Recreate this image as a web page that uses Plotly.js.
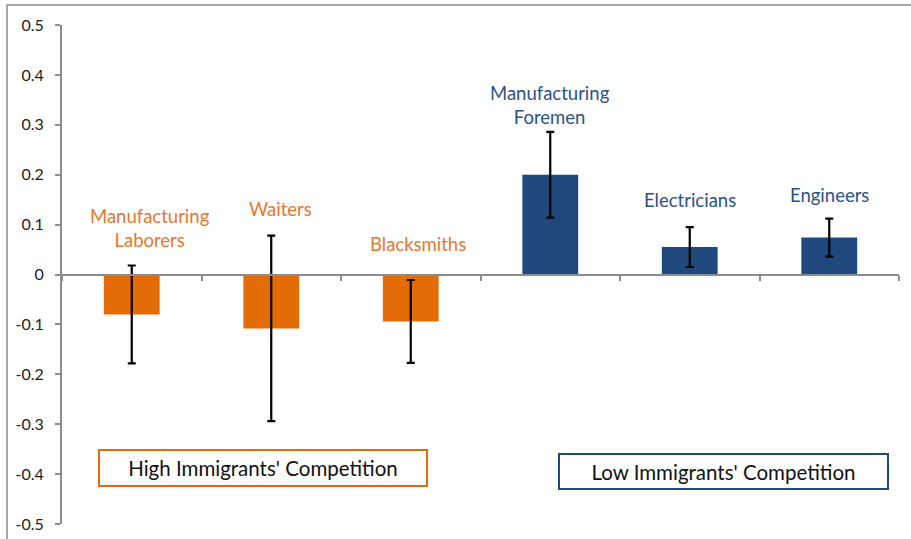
<!DOCTYPE html>
<html>
<head>
<meta charset="utf-8">
<script src="https://cdn.plot.ly/plotly-3.0.1.min.js"></script>
<style>html,body{margin:0;padding:0;background:#fff;}#chart{width:911px;height:539px;}</style>
</head>
<body>
<div id="chart"></div>
<script>
// ---- data ----
const highCategories = ["Manufacturing Laborers", "Waiters", "Blacksmiths"];
const lowCategories = ["Manufacturing Foremen", "Electricians", "Engineers"];
const highValues = [-0.080, -0.108, -0.094];
const highErrors = [0.098, 0.186, 0.083];
const lowValues = [0.200, 0.055, 0.074];
const lowErrors = [0.086, 0.040, 0.038];
const groupLabels = ["High Immigrants' Competition", "Low Immigrants' Competition"];
const yTickValues = [0.5, 0.4, 0.3, 0.2, 0.1, 0, -0.1, -0.2, -0.3, -0.4, -0.5];
const yTickLabels = ["0.5", "0.4", "0.3", "0.2", "0.1", "0", "-0.1", "-0.2", "-0.3", "-0.4", "-0.5"];

const ORANGE = "#E36C09";
const ORANGE_TEXT = "#E8762D";
const BLUE = "#1F497D";
const BLUE_TEXT = "#2A5288";
const FONT = "Lato, 'Open Sans', sans-serif";
const allCats = highCategories.concat(lowCategories);

const errStyle = {type: "data", visible: true, color: "#000", thickness: 2.2, width: 4};

const traces = [
  {type: "bar", x: highCategories, y: highValues, marker: {color: ORANGE},
   error_y: Object.assign({array: highErrors}, errStyle), width: 0.4, hoverinfo: "x+y"},
  {type: "bar", x: lowCategories, y: lowValues, marker: {color: BLUE},
   error_y: Object.assign({array: lowErrors}, errStyle), width: 0.4, hoverinfo: "x+y"}
];

function label(cat, y, text, color, xshift) {
  return {x: cat, y: y, xref: "x", yref: "y", text: text, showarrow: false,
          xanchor: "center", yanchor: "middle",
          xshift: xshift || 0, font: {family: FONT, size: 18.5, color: color}, align: "center"};
}

const annotations = [
  label(highCategories[0], 0.093, "Manufacturing<br>Laborers", ORANGE_TEXT, 18),
  label(highCategories[1], 0.131, "Waiters", ORANGE_TEXT, 9),
  label(highCategories[2], 0.062, "Blacksmiths", ORANGE_TEXT, 7),
  label(lowCategories[0], 0.34, "Manufacturing<br>Foremen", BLUE_TEXT, 0),
  label(lowCategories[1], 0.150, "Electricians", BLUE_TEXT, 0),
  label(lowCategories[2], 0.160, "Engineers", BLUE_TEXT, 0),
  {xref: "paper", yref: "paper", x: 0.2407, y: 0.112, xanchor: "center", yanchor: "middle",
   text: groupLabels[0], showarrow: false,
   width: 326, height: 34, bordercolor: ORANGE, borderwidth: 2, borderpad: 0, bgcolor: "#fff",
   font: {family: FONT, size: 20.5, color: "#111"}},
  {xref: "paper", yref: "paper", x: 0.790, y: 0.106, xanchor: "center", yanchor: "middle",
   text: groupLabels[1], showarrow: false,
   width: 327, height: 33, bordercolor: BLUE, borderwidth: 2, borderpad: 0, bgcolor: "#fff",
   font: {family: FONT, size: 20.5, color: "#111"}}
];

const layout = {
  width: 911, height: 539,
  margin: {l: 62, r: 12, t: 25, b: 15, pad: 0},
  paper_bgcolor: "#fff", plot_bgcolor: "#fff",
  showlegend: false,
  barmode: "overlay",
  font: {family: FONT, size: 15, color: "#222"},
  xaxis: {type: "category", categoryorder: "array", categoryarray: allCats,
          range: [-0.5, 5.5], anchor: "free", position: 0.5,
          showticklabels: false, showgrid: false, zeroline: false,
          showline: true, linecolor: "#8c8c8c", linewidth: 2.5,
          ticks: "outside", tickson: "boundaries", ticklen: 5, tickwidth: 2, tickcolor: "#8c8c8c"},
  yaxis: {range: [-0.5, 0.5], tickvals: yTickValues, ticktext: yTickLabels,
          showgrid: false, zeroline: false, showline: true, linecolor: "#8c8c8c", linewidth: 2,
          ticks: "outside", ticklen: 5, tickwidth: 2, tickcolor: "#8c8c8c",
          ticklabelstandoff: 8, tickfont: {family: FONT, size: 16, color: "#222"}},
  annotations: annotations,
  shapes: [
    {type: "path", xref: "paper", yref: "paper",
     path: "M -0.0657,-0.05 L -0.0657,1.0401 L 1.02,1.0401",
     line: {color: "#8c8c8c", width: 1.5}}
  ]
};

Plotly.newPlot("chart", traces, layout, {displayModeBar: false, staticPlot: true});
</script>
</body>
</html>
